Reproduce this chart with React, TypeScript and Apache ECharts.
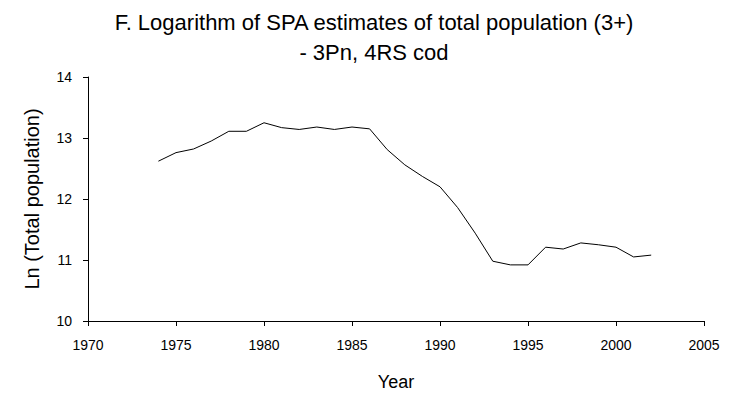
import React, { useEffect, useRef } from "react";
import * as echarts from "echarts";

// Years of the SPA estimates
const years: number[] = [
  1974, 1975, 1976, 1977, 1978, 1979, 1980, 1981, 1982, 1983, 1984, 1985, 1986,
  1987, 1988, 1989, 1990, 1991, 1992, 1993, 1994, 1995, 1996, 1997, 1998, 1999,
  2000, 2001, 2002,
];

// ln(total population, ages 3+)
const lnPopulation: number[] = [
  12.62, 12.76, 12.82, 12.95, 13.11, 13.11, 13.25, 13.17, 13.14, 13.18, 13.14,
  13.18, 13.15, 12.81, 12.56, 12.37, 12.2, 11.86, 11.44, 10.98, 10.92, 10.92,
  11.21, 11.18, 11.28, 11.25, 11.21, 11.05, 11.08,
];

const titleLines: string[] = [
  "F. Logarithm of SPA estimates of total population (3+)",
  "- 3Pn, 4RS cod",
];

const FONT = "'Liberation Sans', Arial, sans-serif";

export default function App() {
  const ref = useRef<HTMLDivElement>(null);

  useEffect(() => {
    if (!ref.current) return;
    const chart = echarts.init(ref.current, undefined, { renderer: "svg" });
    chart.setOption({
      animation: false,
      backgroundColor: "#ffffff",
      title: {
        text: titleLines.join("\n"),
        left: 369,
        textAlign: "center",
        top: 2,
        textStyle: {
          fontFamily: FONT,
          fontSize: 22,
          fontWeight: "normal",
          color: "#000",
          lineHeight: 30,
        },
      },
      grid: { left: 88, right: 26, top: 77, bottom: 74 },
      xAxis: {
        type: "value",
        min: 1970,
        max: 2005,
        interval: 5,
        name: "Year",
        nameLocation: "middle",
        nameGap: 52,
        nameTextStyle: { fontFamily: FONT, fontSize: 18, color: "#000" },
        axisLine: { show: true, lineStyle: { color: "#000", width: 1 } },
        axisTick: { show: true, length: 5, lineStyle: { color: "#000" } },
        axisLabel: {
          fontFamily: FONT,
          fontSize: 14,
          color: "#000",
          margin: 17,
          formatter: (v: number) => String(v),
        },
        splitLine: { show: false },
      },
      yAxis: {
        type: "value",
        min: 10,
        max: 14,
        interval: 1,
        name: "Ln (Total population)",
        nameLocation: "middle",
        nameGap: 46,
        nameTextStyle: { fontFamily: FONT, fontSize: 20, color: "#000" },
        axisLine: { show: true, lineStyle: { color: "#000", width: 1 } },
        axisTick: { show: true, length: 5, lineStyle: { color: "#000" } },
        axisLabel: {
          fontFamily: FONT,
          fontSize: 14,
          color: "#000",
          margin: 16,
        },
        splitLine: { show: false },
      },
      series: [
        {
          type: "line",
          data: years.map((y, i) => [y, lnPopulation[i]]),
          showSymbol: false,
          lineStyle: { color: "#000", width: 1 },
        },
      ],
    });
    return () => chart.dispose();
  }, []);

  return (
    <div
      ref={ref}
      style={{ position: "fixed", left: 0, top: 0, width: 730, height: 396 }}
    />
  );
}
